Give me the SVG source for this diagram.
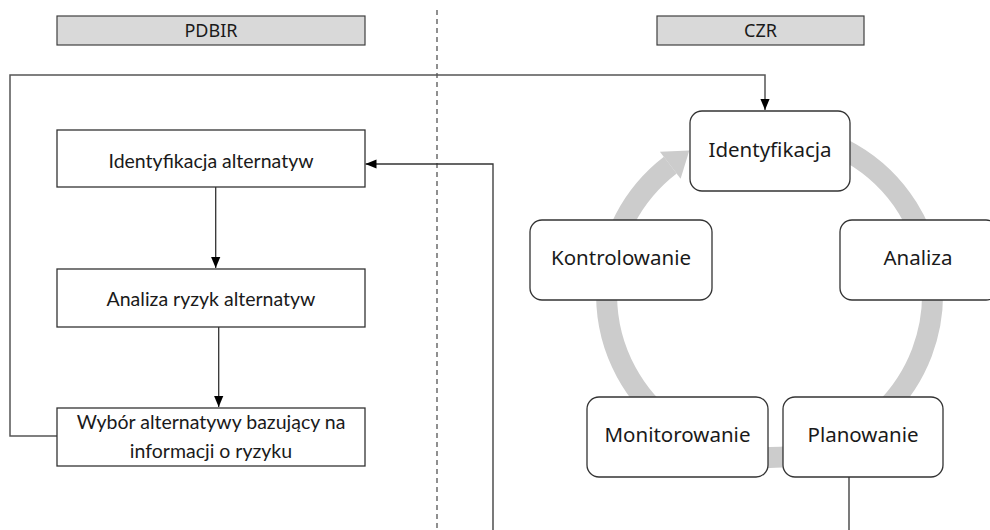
<svg xmlns="http://www.w3.org/2000/svg" width="990" height="530" viewBox="0 0 990 530">
<style>
.hdr{fill:#d9d9d9;stroke:#404040;stroke-width:1.2}
.hdrt{font-family:"Noto Sans","Liberation Sans",sans-serif;font-size:18px;fill:#1a1a1a;text-anchor:middle}
.lbox{fill:#fff;stroke:#333;stroke-width:1.3}
.lt{font-family:Lato,"Liberation Sans",sans-serif;font-size:19.5px;fill:#1a1a1a;text-anchor:middle}
.rbox{fill:#fff;stroke:#333;stroke-width:1.3}
.rt{font-family:"Noto Sans","Liberation Sans",sans-serif;font-size:20.5px;fill:#1a1a1a;text-anchor:middle}
.con{fill:none;stroke:#333;stroke-width:1.3}
.con2{fill:none;stroke:#555;stroke-width:1.5}
</style>
<defs>
<marker id="ah" markerUnits="userSpaceOnUse" markerWidth="11" markerHeight="12" viewBox="0 0 12 10" refX="12" refY="5" orient="auto">
<path d="M0,0 L12,5 L0,10 z" fill="#000"/>
</marker>
</defs>
<rect width="990" height="530" fill="#fff"/>
<g id="headers">
<g id="hdr-pdbir"><rect class="hdr" x="57" y="16" width="308" height="29"/><text class="hdrt" x="211" y="37">PDBIR</text></g>
<g id="hdr-czr"><rect class="hdr" x="657" y="16" width="207" height="29"/><text class="hdrt" x="760.5" y="37">CZR</text></g>
</g>
<line id="divider" x1="437" y1="10" x2="437" y2="530" stroke="#555" stroke-width="1.3" stroke-dasharray="5,4"/>
<g id="cycle">
<path d="M783.7,132.1 A163,163 0 1 1 670.3,165.2" fill="none" stroke="#cccccc" stroke-width="21"/>
<polygon points="659.9,151.8 680.6,178.7 689.3,150.6" fill="#cccccc"/>
</g>
<g id="connectors">
<path class="con2" d="M57,436 H10 V75 H765 V110" marker-end="url(#ah)"/>
<path class="con" d="M215.7,187 V268" marker-end="url(#ah)"/>
<path class="con" d="M218.7,327 V407" marker-end="url(#ah)"/>
<path class="con" d="M493,530 V164 H365.5" marker-end="url(#ah)"/>
<path class="con" d="M849,477 V530"/>
</g>
<g id="n-ident-alt"><rect class="lbox" x="57" y="130" width="308" height="57"/><text class="lt" x="211" y="167.5">Identyfikacja alternatyw</text></g>
<g id="n-analiza-ryzyk"><rect class="lbox" x="57" y="269" width="308" height="58"/><text class="lt" x="211" y="306">Analiza ryzyk alternatyw</text></g>
<g id="n-wybor"><rect class="lbox" x="57" y="408" width="308" height="58"/><text class="lt" x="211" y="429">Wybór alternatywy bazujący na</text><text class="lt" x="211" y="458">informacji o ryzyku</text></g>
<g id="n-identyfikacja"><rect class="rbox" x="690" y="111" width="160" height="80" rx="12"/><text class="rt" x="770" y="157">Identyfikacja</text></g>
<g id="n-kontrolowanie"><rect class="rbox" x="530" y="220" width="182" height="80" rx="12"/><text class="rt" x="621" y="265">Kontrolowanie</text></g>
<g id="n-analiza"><rect class="rbox" x="840" y="220" width="158" height="80" rx="12"/><text class="rt" x="918" y="265">Analiza</text></g>
<g id="n-monitorowanie"><rect class="rbox" x="587" y="397" width="181" height="80" rx="12"/><text class="rt" x="677.5" y="442">Monitorowanie</text></g>
<g id="n-planowanie"><rect class="rbox" x="783" y="397" width="160" height="80" rx="12"/><text class="rt" x="863" y="442">Planowanie</text></g>
</svg>
